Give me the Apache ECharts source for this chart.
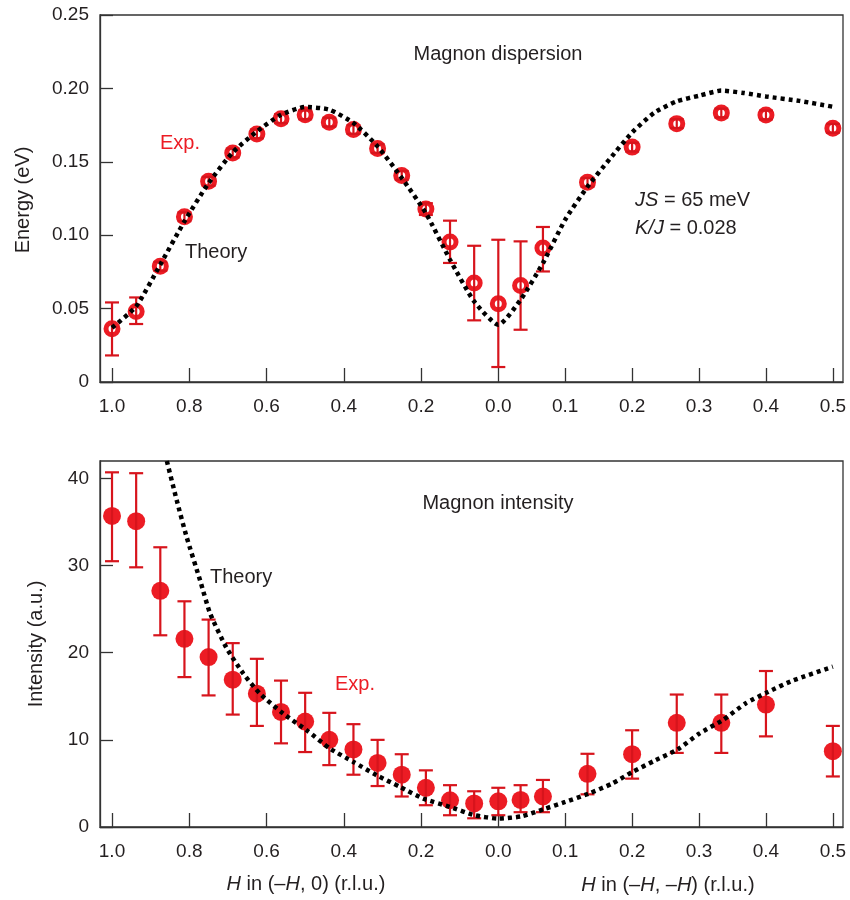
<!DOCTYPE html>
<html>
<head>
<meta charset="utf-8">
<script src="https://cdn.jsdelivr.net/npm/echarts@6/dist/echarts.min.js"></script>
<style>
html,body{margin:0;padding:0;background:#fff;}
#chart{width:850px;height:900px;}
</style>
</head>
<body>
<div id="chart"></div>
<script>
// ---------- data ----------
// Branch A: H in (-H, 0), plotted from 1.0 down to 0.0
// Branch B: H in (-H, -H), plotted from 0.0 up to 0.5
const expH_A = [1.0, 0.9375, 0.875, 0.8125, 0.75, 0.6875, 0.625, 0.5625, 0.5, 0.4375, 0.375, 0.3125, 0.25, 0.1875, 0.125, 0.0625, 0.0];
const expH_B = [0.0333, 0.0667, 0.1333, 0.2, 0.2667, 0.3333, 0.4, 0.5];

const energy_A   = [0.0363, 0.0481, 0.0788, 0.1126, 0.1367, 0.156, 0.169, 0.1794, 0.182, 0.177, 0.172, 0.159, 0.1407, 0.1178, 0.0954, 0.0674, 0.0533];
const energyLo_A = [0.0181, 0.0395, 0.0758, 0.1096, 0.1337, 0.153, 0.166, 0.1764, 0.179, 0.174, 0.169, 0.156, 0.1377, 0.1138, 0.0811, 0.0420, 0.0102];
const energyHi_A = [0.0542, 0.0576, 0.0818, 0.1156, 0.1397, 0.159, 0.172, 0.1824, 0.185, 0.180, 0.175, 0.162, 0.1437, 0.1218, 0.1099, 0.0928, 0.0969];
const energy_B   = [0.0658, 0.0913, 0.136, 0.160, 0.176, 0.1832, 0.1819, 0.1728];
const energyLo_B = [0.0356, 0.0753, 0.133, 0.157, 0.173, 0.1802, 0.1789, 0.1698];
const energyHi_B = [0.0958, 0.1056, 0.139, 0.163, 0.179, 0.1862, 0.1849, 0.1758];

const theoryEH_A = [1.0, 0.9375, 0.875, 0.8125, 0.75, 0.6875, 0.625, 0.5625, 0.5, 0.4375, 0.375, 0.3125, 0.25, 0.1875, 0.125, 0.0625, 0.0];
const theoryE_A  = [0.037, 0.0515, 0.080, 0.1094, 0.1355, 0.1564, 0.1707, 0.182, 0.1873, 0.1855, 0.1764, 0.1605, 0.139, 0.115, 0.0833, 0.0549, 0.039];
const theoryEH_B = [0.0333, 0.0667, 0.1, 0.1333, 0.1667, 0.2, 0.2333, 0.2667, 0.3, 0.3333, 0.3667, 0.4, 0.45, 0.5];
const theoryE_B  = [0.056, 0.081, 0.1106, 0.133, 0.152, 0.170, 0.1835, 0.1912, 0.195, 0.1985, 0.1969, 0.1945, 0.1915, 0.1875];

const inten_A   = [35.7, 35.1, 27.1, 21.6, 19.5, 16.9, 15.3, 13.2, 12.1, 10.0, 8.9, 7.35, 6.0, 4.5, 3.07, 2.7, 2.95];
const intenLo_A = [30.5, 29.8, 22.0, 17.2, 15.1, 12.9, 11.6, 9.6, 8.6, 7.1, 6.0, 4.7, 3.5, 2.5, 1.35, 1.0, 1.35];
const intenHi_A = [40.7, 40.6, 32.1, 25.9, 23.8, 21.1, 19.3, 16.8, 15.4, 13.1, 11.8, 10.0, 8.35, 6.5, 4.8, 4.1, 4.5];
const inten_B   = [3.1, 3.5, 6.1, 8.35, 11.95, 11.95, 14.05, 8.7];
const intenLo_B = [1.7, 1.7, 3.75, 5.55, 8.5, 8.5, 10.4, 5.8];
const intenHi_B = [4.8, 5.4, 8.4, 11.1, 15.2, 15.2, 17.9, 11.6];

const theoryIH_A = [0.858, 0.8325, 0.807, 0.772, 0.746, 0.703, 0.660, 0.617, 0.5566, 0.496, 0.4357, 0.375, 0.315, 0.2545, 0.194, 0.125, 0.06, 0.0];
const theoryI_A  = [42, 37.5, 33.3, 28.3, 24.5, 20.5, 17.6, 15.3, 13.0, 11.1, 9.0, 7.46, 5.94, 4.6, 3.26, 2.3, 1.34, 0.96];
const theoryIH_B = [0.035, 0.07, 0.1, 0.135, 0.17, 0.2, 0.235, 0.268, 0.3, 0.336, 0.37, 0.403, 0.44, 0.5];
const theoryI_B  = [1.23, 2.1, 2.87, 3.83, 4.98, 6.3, 7.66, 8.9, 10.7, 12.3, 14.2, 15.5, 16.8, 18.4];

const xTickH_A = [1.0, 0.8, 0.6, 0.4, 0.2, 0.0];
const xTickH_B = [0.1, 0.2, 0.3, 0.4, 0.5];
const xTickLabels = ['1.0', '0.8', '0.6', '0.4', '0.2', '0.0', '0.1', '0.2', '0.3', '0.4', '0.5'];
const energyTicks = [0, 0.05, 0.10, 0.15, 0.20, 0.25];
const intensityTicks = [0, 10, 20, 30, 40];

// ---------- mapping of the two reciprocal-space directions onto one axis ----------
const K_B = Math.sqrt(3); // relative length of the (-H,-H) direction
const uA = h => 1 - h;
const uB = h => 1 + K_B * h;

const xTickU = xTickH_A.map(uA).concat(xTickH_B.map(uB));
function xLabel(v) {
  for (let i = 0; i < xTickU.length; i++) if (Math.abs(xTickU[i] - v) < 1e-6) return xTickLabels[i];
  return '';
}

function pts(hA, vA, hB, vB) {
  return hA.map((h, i) => [uA(h), vA[i]]).concat(hB.map((h, i) => [uB(h), vB[i]]));
}
function errs(hA, loA, hiA, hB, loB, hiB) {
  return hA.map((h, i) => [uA(h), loA[i], hiA[i]]).concat(hB.map((h, i) => [uB(h), loB[i], hiB[i]]));
}

const RED = '#ec1c24';
const ERR = '#d7141c';
const TXT = '#231f20';
const FONT = '"Liberation Sans", Arial, Helvetica, sans-serif';

function errRender(params, api) {
  const x = api.value(0);
  const p1 = api.coord([x, api.value(1)]);
  const p2 = api.coord([x, api.value(2)]);
  const w = 7;
  const st = { stroke: ERR, lineWidth: 2.2 };
  return {
    type: 'group',
    children: [
      { type: 'line', shape: { x1: p1[0], y1: p1[1], x2: p2[0], y2: p2[1] }, style: st },
      { type: 'line', shape: { x1: p1[0] - w, y1: p1[1], x2: p1[0] + w, y2: p1[1] }, style: st },
      { type: 'line', shape: { x1: p2[0] - w, y1: p2[1], x2: p2[0] + w, y2: p2[1] }, style: st }
    ]
  };
}

const X_MIN = -0.0311, X_MAX = 1.8923;

function xAxisCfg(gi) {
  return {
    type: 'value', gridIndex: gi, min: X_MIN, max: X_MAX,
    axisLine: { show: true, onZero: false, lineStyle: { color: '#333', width: 1.3 } },
    axisTick: { show: true, inside: true, length: 14, customValues: xTickU, lineStyle: { color: '#333', width: 1.3 } },
    axisLabel: { customValues: xTickU, formatter: xLabel, margin: 15, fontSize: 19, color: TXT, fontFamily: FONT },
    splitLine: { show: false }
  };
}

const chart = echarts.init(document.getElementById('chart'), null, { renderer: 'canvas' });

const option = {
  animation: false,
  backgroundColor: '#fff',
  grid: [
    { left: 100, top: 15, width: 743, height: 367, show: true, borderColor: '#333', borderWidth: 1.3, backgroundColor: 'transparent' },
    { left: 100, top: 461, width: 743, height: 366, show: true, borderColor: '#333', borderWidth: 1.3, backgroundColor: 'transparent' }
  ],
  xAxis: [xAxisCfg(0), xAxisCfg(1)],
  yAxis: [
    {
      type: 'value', gridIndex: 0, min: 0, max: 0.25,
      axisLine: { show: true, onZero: false, lineStyle: { color: '#333', width: 1.3 } },
      axisTick: { show: true, inside: true, length: 13, customValues: energyTicks, lineStyle: { color: '#333', width: 1.3 } },
      axisLabel: { customValues: energyTicks, margin: 11, fontSize: 19, color: TXT, fontFamily: FONT,
        formatter: v => (Math.abs(v) < 1e-9 ? '0' : v.toFixed(2)) },
      splitLine: { show: false }
    },
    {
      type: 'value', gridIndex: 1, min: 0, max: 42,
      axisLine: { show: true, onZero: false, lineStyle: { color: '#333', width: 1.3 } },
      axisTick: { show: true, inside: true, length: 13, customValues: intensityTicks, lineStyle: { color: '#333', width: 1.3 } },
      axisLabel: { customValues: intensityTicks, margin: 11, fontSize: 19, color: TXT, fontFamily: FONT,
        formatter: v => String(Math.round(v)) },
      splitLine: { show: false }
    }
  ],
  series: [
    // ---- top: dispersion ----
    {
      type: 'scatter', xAxisIndex: 0, yAxisIndex: 0, z: 3,
      symbol: 'circle', symbolSize: 12,
      itemStyle: { color: '#fff', borderColor: RED, borderWidth: 5, opacity: 1 },
      data: pts(expH_A, energy_A, expH_B, energy_B)
    },
    {
      type: 'custom', xAxisIndex: 0, yAxisIndex: 0, z: 4,
      renderItem: errRender,
      data: errs(expH_A, energyLo_A, energyHi_A, expH_B, energyLo_B, energyHi_B)
    },
    {
      type: 'line', xAxisIndex: 0, yAxisIndex: 0, z: 5,
      showSymbol: false, smooth: 0.2,
      lineStyle: { color: '#000', width: 4.5, type: [4, 4], cap: 'butt' },
      data: pts(theoryEH_A, theoryE_A, theoryEH_B, theoryE_B)
    },
    // ---- bottom: intensity ----
    {
      type: 'scatter', xAxisIndex: 1, yAxisIndex: 1, z: 3,
      symbol: 'circle', symbolSize: 18,
      itemStyle: { color: RED, opacity: 1 },
      data: pts(expH_A, inten_A, expH_B, inten_B)
    },
    {
      type: 'custom', xAxisIndex: 1, yAxisIndex: 1, z: 4,
      renderItem: errRender,
      data: errs(expH_A, intenLo_A, intenHi_A, expH_B, intenLo_B, intenHi_B)
    },
    {
      type: 'line', xAxisIndex: 1, yAxisIndex: 1, z: 5,
      showSymbol: false, smooth: 0.2, clip: true,
      lineStyle: { color: '#000', width: 4.5, type: [4, 4], cap: 'butt' },
      data: pts(theoryIH_A, theoryI_A, theoryIH_B, theoryI_B)
    }
  ],
  graphic: [
    { type: 'text', x: 498, y: 54, style: { text: 'Magnon dispersion', fill: TXT, font: '20px ' + FONT, align: 'center', verticalAlign: 'middle' } },
    { type: 'text', x: 160, y: 143, style: { text: 'Exp.', fill: RED, font: '20px ' + FONT, align: 'left', verticalAlign: 'middle' } },
    { type: 'text', x: 185, y: 252, style: { text: 'Theory', fill: TXT, font: '20px ' + FONT, align: 'left', verticalAlign: 'middle' } },
    { type: 'text', x: 635, y: 200, style: { text: '{i|JS} = 65 meV', fill: TXT, font: '20px ' + FONT, align: 'left', verticalAlign: 'middle',
        rich: { i: { fontStyle: 'italic', fontSize: 20, fontFamily: FONT, fill: TXT } } } },
    { type: 'text', x: 635, y: 228, style: { text: '{i|K/J} = 0.028', fill: TXT, font: '20px ' + FONT, align: 'left', verticalAlign: 'middle',
        rich: { i: { fontStyle: 'italic', fontSize: 20, fontFamily: FONT, fill: TXT } } } },
    { type: 'text', x: 498, y: 503, style: { text: 'Magnon intensity', fill: TXT, font: '20px ' + FONT, align: 'center', verticalAlign: 'middle' } },
    { type: 'text', x: 210, y: 577, style: { text: 'Theory', fill: TXT, font: '20px ' + FONT, align: 'left', verticalAlign: 'middle' } },
    { type: 'text', x: 335, y: 684, style: { text: 'Exp.', fill: RED, font: '20px ' + FONT, align: 'left', verticalAlign: 'middle' } },
    { type: 'text', x: 23, y: 200, rotation: Math.PI / 2, style: { text: 'Energy (eV)', fill: TXT, font: '20px ' + FONT, align: 'center', verticalAlign: 'middle' } },
    { type: 'text', x: 36, y: 644, rotation: Math.PI / 2, style: { text: 'Intensity (a.u.)', fill: TXT, font: '20px ' + FONT, align: 'center', verticalAlign: 'middle' } },
    { type: 'text', x: 306, y: 884, style: { text: '{i|H} in (–{i|H}, 0) (r.l.u.)', fill: TXT, font: '20px ' + FONT, align: 'center', verticalAlign: 'middle',
        rich: { i: { fontStyle: 'italic', fontSize: 20, fontFamily: FONT, fill: TXT } } } },
    { type: 'text', x: 668, y: 885, style: { text: '{i|H} in (–{i|H}, –{i|H}) (r.l.u.)', fill: TXT, font: '20px ' + FONT, align: 'center', verticalAlign: 'middle',
        rich: { i: { fontStyle: 'italic', fontSize: 20, fontFamily: FONT, fill: TXT } } } }
  ]
};
chart.setOption(option);
</script>
</body>
</html>
